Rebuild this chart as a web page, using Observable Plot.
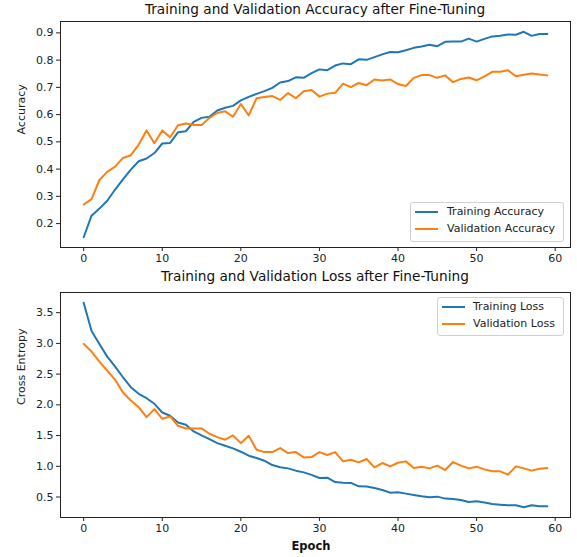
<!DOCTYPE html>
<html>
<head>
<meta charset="utf-8">
<script src="https://cdn.jsdelivr.net/npm/d3@7"></script>
<script src="https://cdn.jsdelivr.net/npm/@observablehq/plot@0.6"></script>
<style>
  body { margin: 0; background: #fff; font-family: "DejaVu Sans", sans-serif; }
  #wrap { position: relative; width: 577px; height: 557px; overflow: hidden; }
  .abs { position: absolute; }
  .title { font-size: 13.7px; color: #111; white-space: nowrap; transform: translateX(-50%); }
  .legend { border: 1px solid #d0d0d0; border-radius: 3px; background: rgba(255,255,255,0.85); font-size: 11px; color: #222; }
  .legend .row { position: absolute; white-space: nowrap; }
  .legend .sw { position: absolute; height: 0; border-top: 2px solid; }
  .xlabel { font-size: 11.5px; font-weight: bold; color: #111; transform: translateX(-50%); }
</style>
</head>
<body>
<div id="wrap"></div>
<script>
// ---- data ----
const epochs = d3.range(60);
const trainAcc = [0.150,0.229,0.255,0.284,0.325,0.362,0.398,0.429,0.439,0.459,
  0.494,0.496,0.535,0.539,0.573,0.588,0.592,0.615,0.625,0.632,
  0.652,0.665,0.676,0.686,0.698,0.718,0.723,0.737,0.735,0.752,
  0.766,0.763,0.780,0.788,0.785,0.803,0.801,0.811,0.821,0.830,
  0.829,0.836,0.845,0.850,0.856,0.851,0.867,0.868,0.868,0.879,
  0.868,0.878,0.887,0.889,0.894,0.893,0.904,0.889,0.896,0.896];
const valAcc = [0.270,0.290,0.360,0.390,0.409,0.441,0.451,0.490,0.542,0.495,
  0.542,0.517,0.561,0.567,0.562,0.562,0.588,0.606,0.612,0.592,
  0.639,0.597,0.660,0.665,0.668,0.654,0.679,0.660,0.686,0.690,
  0.666,0.677,0.680,0.714,0.701,0.716,0.708,0.729,0.725,0.729,
  0.712,0.705,0.735,0.745,0.745,0.735,0.744,0.719,0.731,0.736,
  0.726,0.740,0.757,0.757,0.763,0.741,0.746,0.751,0.747,0.744];
const trainLoss = [3.662,3.203,2.992,2.785,2.623,2.449,2.287,2.179,2.108,2.017,
  1.876,1.822,1.713,1.676,1.567,1.502,1.442,1.377,1.335,1.291,
  1.237,1.172,1.134,1.091,1.020,0.983,0.966,0.929,0.901,0.861,
  0.809,0.815,0.744,0.734,0.730,0.674,0.670,0.647,0.614,0.571,
  0.577,0.555,0.533,0.511,0.495,0.506,0.474,0.468,0.452,0.419,
  0.430,0.409,0.386,0.376,0.365,0.365,0.333,0.365,0.349,0.349];
const valLoss = [2.992,2.867,2.704,2.558,2.407,2.201,2.071,1.962,1.800,1.930,
  1.773,1.811,1.659,1.616,1.616,1.616,1.530,1.475,1.432,1.502,
  1.377,1.497,1.270,1.231,1.231,1.296,1.215,1.231,1.145,1.150,
  1.231,1.183,1.231,1.080,1.107,1.064,1.118,0.983,1.053,0.999,
  1.058,1.080,0.972,0.994,0.966,1.010,0.939,1.069,1.010,0.966,
  0.994,0.950,0.918,0.918,0.864,0.999,0.966,0.929,0.961,0.972];
const xTicks = [0,10,20,30,40,50,60];
const accTicks = [0.2,0.3,0.4,0.5,0.6,0.7,0.8,0.9];
const lossTicks = [0.5,1.0,1.5,2.0,2.5,3.0,3.5];
const titles = ["Training and Validation Accuracy after Fine-Tuning", "Training and Validation Loss after Fine-Tuning"];
const accLegend = ["Training Accuracy", "Validation Accuracy"];
const lossLegend = ["Training Loss", "Validation Loss"];
const yLabels = ["Accuracy", "Cross Entropy"];
const xLabel = "Epoch";
const colors = ["#1f77b4", "#ff7f0e"];

// matplotlib-like 5% margins
function pad(vals) {
  const [a, b] = d3.extent(vals); const m = (b - a) * 0.05; return [a - m, b + m];
}
const xDom = pad(epochs);

const wrap = document.getElementById("wrap");

function makePlot(train, val, yTicks, yLabel, fmt, opts) {
  const rows = epochs.map((e, i) => ({e, t: train[i], v: val[i]}));
  return Plot.plot({
    width: 577, height: opts.height,
    marginLeft: 60, marginRight: 7, marginTop: opts.mt, marginBottom: opts.mb,
    style: {fontFamily: "DejaVu Sans", fontSize: "11px", color: "#222", background: "transparent", overflow: "visible"},
    x: {domain: xDom},
    y: {domain: pad(train.concat(val))},
    marks: [
      Plot.line(rows, {x: "e", y: "t", stroke: colors[0], strokeWidth: 2}),
      Plot.line(rows, {x: "e", y: "v", stroke: colors[1], strokeWidth: 2}),
      Plot.frame({stroke: "#222", strokeWidth: 1}),
      Plot.axisX({ticks: xTicks, tickSize: 4, tickPadding: 3, tickFormat: d => d, label: null, fontSize: 11}),
      Plot.axisY({ticks: yTicks, tickSize: 4, tickPadding: 3, tickFormat: fmt, label: null, fontSize: 11}),
      Plot.text([yLabel], {frameAnchor: "left", dx: -39, rotate: -90, fontSize: 11, fill: "#222"})
    ]
  });
}

const p1 = makePlot(trainAcc, valAcc, accTicks, yLabels[0], d3.format(".1f"), {height: 270, mt: 21, mb: 23});
p1.classList.add("abs"); p1.style.left = "0px"; p1.style.top = "0px";
wrap.appendChild(p1);

const p2 = makePlot(trainLoss, valLoss, lossTicks, yLabels[1], d3.format(".1f"), {height: 287, mt: 22, mb: 40});
p2.classList.add("abs"); p2.style.left = "0px"; p2.style.top = "270px";
wrap.appendChild(p2);

function addDiv(cls, text, left, top) {
  const d = document.createElement("div");
  d.className = "abs " + cls; d.textContent = text;
  d.style.left = left + "px"; d.style.top = top + "px";
  wrap.appendChild(d); return d;
}
addDiv("title", titles[0], 315, 1);
addDiv("title", titles[1], 315, 268);
addDiv("xlabel", xLabel, 311, 539);

function legend(labels, box, swX, swW, txtX, rowsY) {
  const lg = document.createElement("div");
  lg.className = "abs legend";
  lg.style.left = box[0] + "px"; lg.style.top = box[1] + "px";
  lg.style.width = box[2] + "px"; lg.style.height = box[3] + "px";
  labels.forEach((lab, i) => {
    const sw = document.createElement("div");
    sw.className = "sw"; sw.style.borderColor = colors[i];
    sw.style.left = swX + "px"; sw.style.width = swW + "px"; sw.style.top = (rowsY[i] - 1) + "px";
    lg.appendChild(sw);
    const r = document.createElement("div");
    r.className = "row"; r.textContent = lab;
    r.style.left = txtX + "px"; r.style.top = (rowsY[i] - 7) + "px";
    lg.appendChild(r);
  });
  wrap.appendChild(lg);
}
legend(accLegend, [410, 202, 152, 38], 4, 23, 36, [9, 26]);
legend(lossLegend, [437, 297, 125, 37], 4, 23, 35, [9, 26]);
</script>
</body>
</html>
